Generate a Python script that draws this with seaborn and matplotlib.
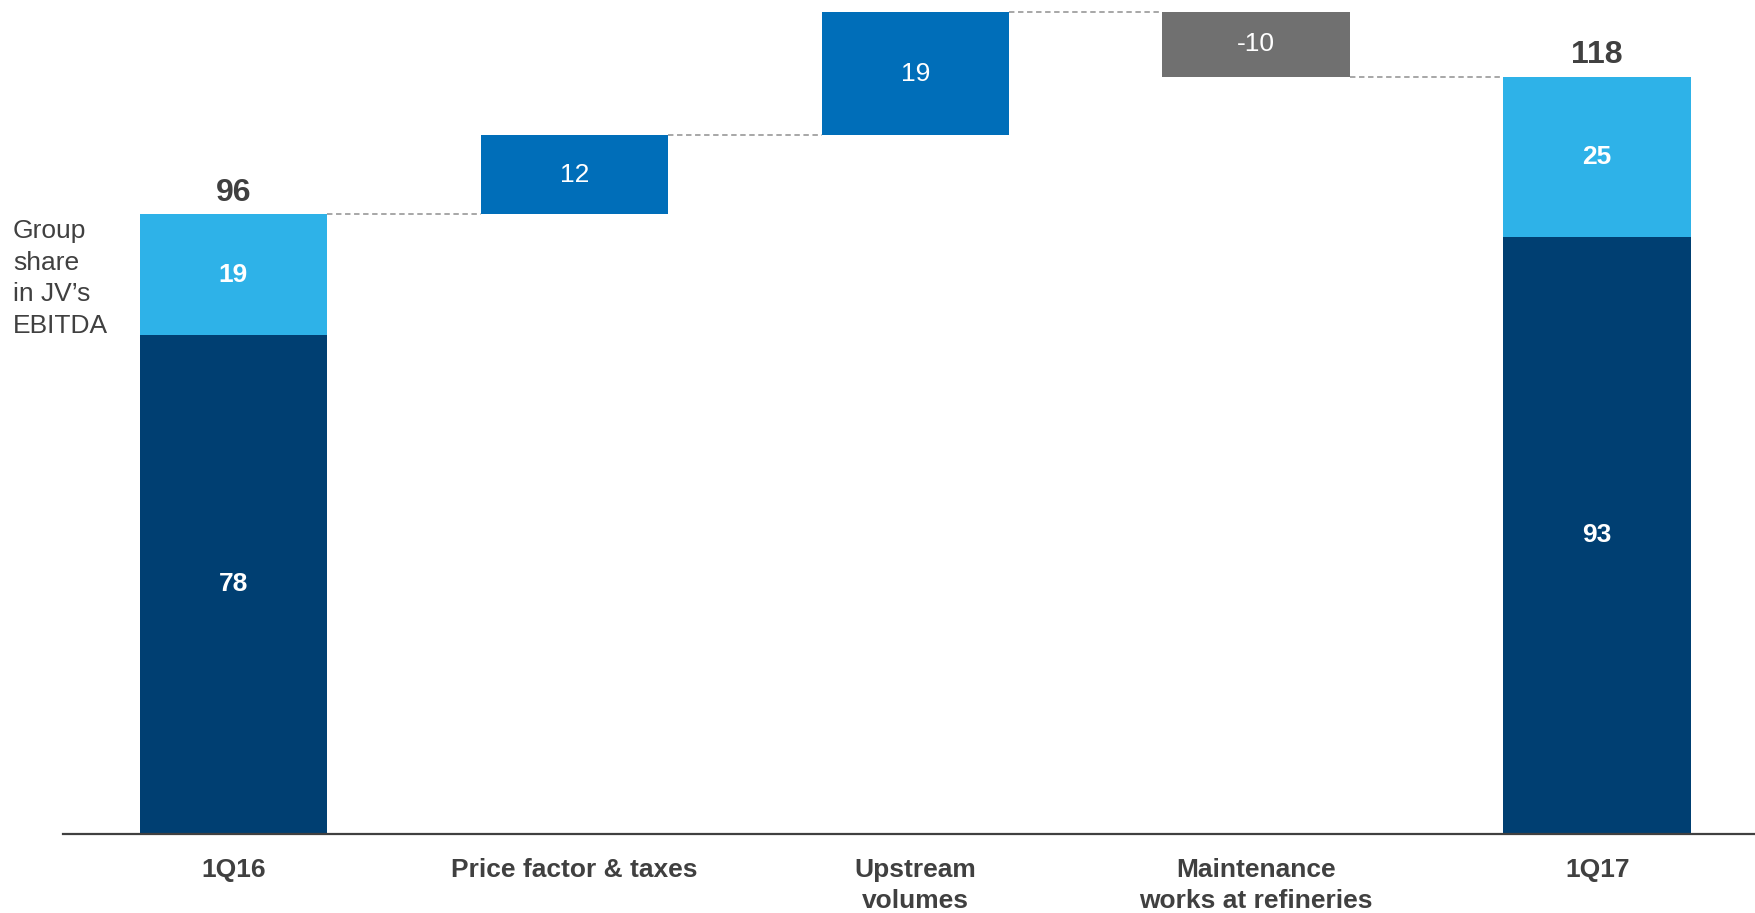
import numpy as np
import pandas as pd
import matplotlib
matplotlib.use("Agg")
import matplotlib.pyplot as plt
import seaborn as sns

# values (unrounded where the bars show it)
steps = ["1Q16", "Price factor & taxes", "Upstream volumes", "Maintenance works at refineries", "1Q17"]
tick_labels = ["1Q16", "Price factor & taxes", "Upstream\nvolumes", "Maintenance\nworks at refineries", "1Q17"]
start_total = 96.2
deltas = [12.3, 19.1, -10.0]
end_total = 117.6
own_part = [77.5, 92.7]          # dark part of the two totals
total_labels = ["96", "118"]
jv_labels = ["19", "25"]
own_labels = ["78", "93"]
delta_labels = ["12", "19", "-10"]

navy = "#003F72"
light = "#2EB2E8"
blue = "#006EB9"
grey = "#707070"
txt = "#404040"

sns.set_style("white")
plt.rcParams["font.family"] = ["Liberation Sans", "DejaVu Sans"]

# build tops/bases for the waterfall
run = np.cumsum([start_total] + deltas)
tops = [start_total]
bases = [own_part[0]]
for i, d in enumerate(deltas):
    tops.append(max(run[i], run[i + 1]))
    bases.append(min(run[i], run[i + 1]))
tops.append(end_total)
bases.append(own_part[1])
df = pd.DataFrame({"step": steps, "top": tops, "base": bases})

top_pal = {steps[0]: light, steps[1]: blue, steps[2]: blue, steps[3]: grey, steps[4]: light}
base_pal = {steps[0]: navy, steps[1]: "white", steps[2]: "white", steps[3]: "white", steps[4]: navy}

fig = plt.figure(figsize=(17.56, 9.13), dpi=100)
ax = fig.add_axes([63 / 1756, 79 / 913, 1 - 63 / 1756, 834 / 913])
w = 0.55
sns.barplot(data=df, x="step", y="top", hue="step", palette=top_pal, order=steps,
            width=w, saturation=1, linewidth=0, legend=False, ax=ax)
sns.barplot(data=df, x="step", y="base", hue="step", palette=base_pal, order=steps,
            width=w, saturation=1, linewidth=0, legend=False, ax=ax)

# connectors
levels = [start_total] + list(run[1:-1]) + [end_total]
for i in range(4):
    ax.plot([i + w / 2, i + 1 - w / 2], [levels[i], levels[i]], ls=(0, (3, 2)),
            color="#A0A0A0", lw=1.3, zorder=3)

# labels in bars
for j, i in enumerate([0, 4]):
    ax.text(i, own_part[j] / 2, own_labels[j], ha="center", va="center",
            color="white", fontsize=19, fontweight="bold")
    ax.text(i, (own_part[j] + tops[i]) / 2, jv_labels[j], ha="center", va="center",
            color="white", fontsize=19, fontweight="bold")
    ax.annotate(total_labels[j], (i, tops[i]), xytext=(0, 5), textcoords="offset points",
                ha="center", va="bottom", color=txt, fontsize=23, fontweight="bold")
for j in range(3):
    ax.text(j + 1, (tops[j + 1] + bases[j + 1]) / 2, delta_labels[j], ha="center",
            va="center", color="white", fontsize=19)

ax.set_xlim(-0.5, 4.466)
ax.set_ylim(0, 129.5)
ax.set_xticks(range(5))
ax.set_xticklabels(tick_labels, fontsize=19, fontweight="bold", color=txt, linespacing=1.38)
ax.tick_params(axis="x", length=0, pad=17)
ax.set_yticks([])
ax.set_xlabel("")
ax.set_ylabel("")
for s in ["top", "right", "left"]:
    ax.spines[s].set_visible(False)
ax.spines["bottom"].set_color(txt)
ax.spines["bottom"].set_linewidth(1.6)

fig.text(13 / 1756, 1 - 219 / 913, "Group\nshare\nin JV\u2019s\nEBITDA", ha="left", va="top",
         fontsize=19, color=txt, linespacing=1.4)

fig.savefig("out.png", dpi=100)
